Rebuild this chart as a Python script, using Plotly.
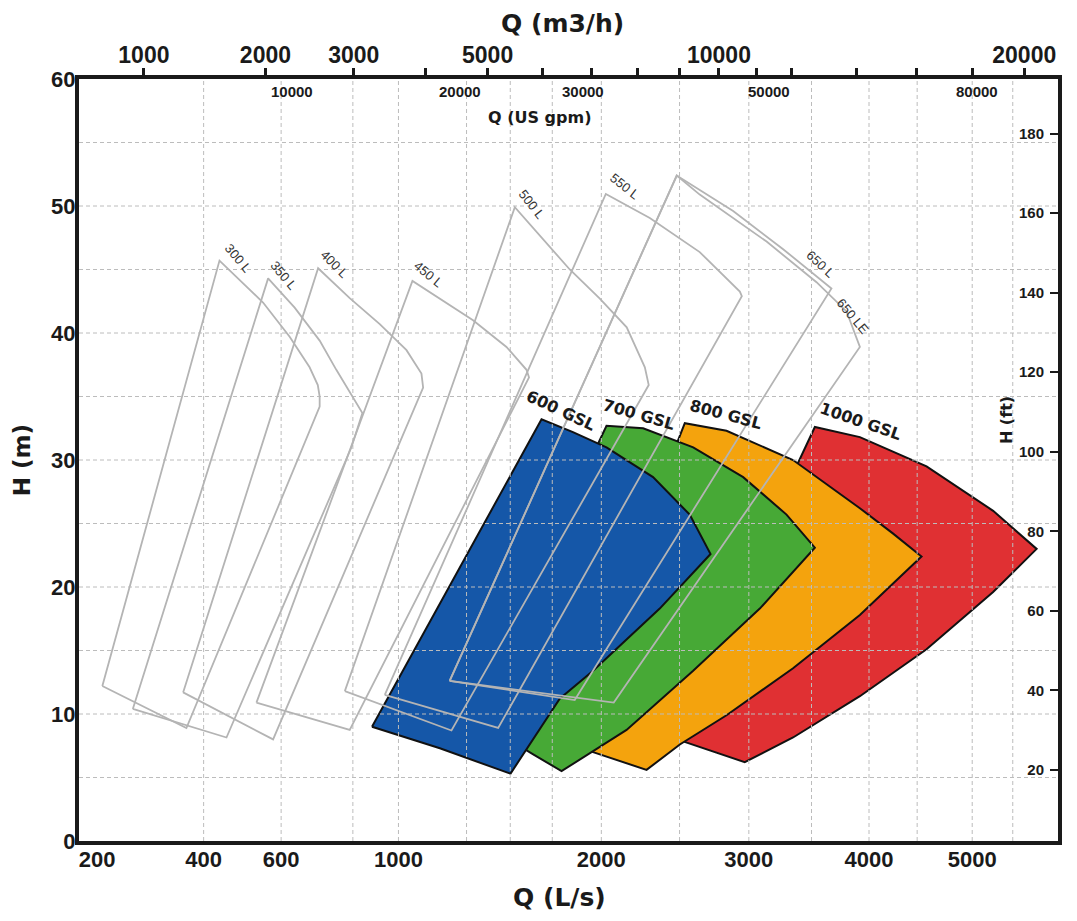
import plotly.graph_objects as go

# ---------------- axis / tick data ----------------
P = 0.4  # the chart's flow axis is compressed like Q**0.4
Q_RANGE = [174, 5935]          # L/s at the left and right frame
H_RANGE = [0, 60]              # m
FT_RANGE = [2.15, 193.7]       # ft, as printed on the right scale

ls_ticks = [200, 400, 600, 1000, 2000, 3000, 4000, 5000]
ls_grid = [400, 600, 830, 1000, 1290, 1500, 1720, 2000, 2500, 3000, 3500, 4000, 4450, 5000, 5430]
h_ticks = [0, 10, 20, 30, 40, 50, 60]
h_grid = [5, 10, 15, 20, 25, 30, 35, 40, 45, 50, 55]
ft_ticks = [20, 40, 60, 80, 100, 120, 140, 160, 180]
m3h_ticks = [1000, 2000, 3000, 4000, 5000, 6000, 7000, 8000, 9000, 10000, 11000, 12000, 14000, 16000, 18000, 20000]
m3h_labels = [1000, 2000, 3000, 5000, 10000, 20000]
gpm_labels = [10000, 20000, 30000, 50000, 80000]

# ---------------- pump ranges (Q in L/s, H in m) ----------------
l300_q = [208, 437, 549, 625, 686, 712, 718, 718, 362, 208]
l300_h = [12.2, 45.7, 42.4, 39.7, 37.3, 35.9, 35.0, 34.2, 8.9, 12.2]
l350_q = [258, 563, 640, 718, 773, 837, 864, 825, 454, 258]
l350_h = [10.4, 44.3, 42.0, 39.4, 37.1, 34.7, 33.7, 31.0, 8.15, 10.4]
l400_q = [355, 713, 819, 928, 1032, 1093, 1100, 577, 355]
l400_h = [11.7, 45.1, 42.75, 40.7, 38.65, 36.8, 35.7, 8.0, 11.7]
l450_q = [531, 1056, 1320, 1481, 1583, 1596, 819, 531]
l450_h = [10.9, 44.1, 41.0, 38.9, 37.1, 36.5, 8.75, 10.9]
l500_q = [802, 1523, 1817, 1991, 2155, 2270, 2295, 1222, 802]
l500_h = [11.8, 49.9, 45.0, 42.7, 40.45, 37.3, 35.9, 8.7, 11.8]
l550_q = [947, 2027, 2302, 2640, 2932, 2947, 1440, 947]
l550_h = [11.5, 50.95, 49.06, 46.37, 43.26, 42.9, 8.9, 11.5]
l650_q = [1214, 2481, 2882, 3268, 3669, 1845, 1214]
l650_h = [12.6, 52.4, 49.6, 46.6, 43.5, 11.1, 12.6]
l650le_q = [1214, 2481, 2640, 3137, 3542, 3800, 3918, 2075, 1214]
l650le_h = [12.6, 52.4, 50.9, 47.2, 44.0, 41.7, 38.9, 10.9, 12.6]

g600_q = [899, 1662, 1835, 2031, 2323, 2570, 2717, 2367, 1951, 1761, 1501, 1171, 899]
g600_h = [9.0, 33.2, 32.2, 31.0, 28.65, 25.7, 22.6, 18.3, 13.4, 11.2, 5.3, 7.3, 9.0]
g700_q = [1305, 2031, 2259, 2594, 2957, 3295, 3528, 3084, 2594, 2154, 1771, 1609, 1305]
g700_h = [9.9, 32.7, 32.5, 31.0, 28.65, 25.7, 23.1, 18.3, 13.4, 8.75, 5.5, 6.9, 9.9]
g800_q = [1761, 2536, 2833, 3348, 3918, 4222, 4492, 3918, 3348, 2833, 2502, 2281, 1951, 1761]
g800_h = [7.8, 32.9, 32.3, 30.0, 26.2, 24.2, 22.4, 17.8, 13.6, 9.9, 7.6, 5.6, 7.0, 7.8]
g1000_q = [2434, 3528, 3918, 4541, 5219, 5693, 5219, 4541, 3918, 3348, 2969, 2594, 2434]
g1000_h = [8.2, 32.6, 31.8, 29.5, 26.0, 23.0, 19.6, 15.1, 11.4, 8.15, 6.2, 7.6, 8.2]

outline_names = ["300 L", "350 L", "400 L", "450 L", "500 L", "550 L", "650 L", "650 LE"]
outline_label_q = [484, 607, 768, 1123, 1610, 2143, 3578, 3856]
outline_label_h = [45.9, 44.5, 45.4, 44.6, 50.1, 51.5, 45.4, 41.3]
outline_label_angle = [50, 50, 45, 40, 52, 38, 43, 50]

gsl_names = ["600 GSL", "700 GSL", "800 GSL", "1000 GSL"]
gsl_colors = ["#1557a8", "#47a936", "#f4a30d", "#e03033"]
gsl_label_q = [1767, 2231, 2828, 3927]
gsl_label_h = [33.9, 33.6, 33.6, 33.0]
gsl_label_angle = [25, 16, 15, 19]


def X(qs):
    return [None if q is None else q ** P for q in qs]


fig = go.Figure()

# filled GSL ranges (back to front)
for q, h, col in [(g1000_q, g1000_h, gsl_colors[3]), (g800_q, g800_h, gsl_colors[2]),
                  (g700_q, g700_h, gsl_colors[1]), (g600_q, g600_h, gsl_colors[0])]:
    fig.add_trace(go.Scatter(x=X(q), y=h, mode="lines", fill="toself", fillcolor=col,
                             line=dict(color="#111111", width=2), hoverinfo="skip",
                             showlegend=False))

# dashed grid drawn above the fills, as in the original
gx, gy = [], []
for q in ls_grid:
    gx += [q ** P, q ** P, None]
    gy += [H_RANGE[0], H_RANGE[1], None]
for h in h_grid:
    gx += [Q_RANGE[0] ** P, Q_RANGE[1] ** P, None]
    gy += [h, h, None]
fig.add_trace(go.Scatter(x=gx, y=gy, mode="lines", line=dict(color="#bcbcbc", width=1, dash="4px,3px"),
                         hoverinfo="skip", showlegend=False))

# grey L-series outlines
for q, h in [(l300_q, l300_h), (l350_q, l350_h), (l400_q, l400_h), (l450_q, l450_h),
             (l500_q, l500_h), (l550_q, l550_h), (l650_q, l650_h), (l650le_q, l650le_h)]:
    fig.add_trace(go.Scatter(x=X(q), y=h, mode="lines", line=dict(color="#b4b4b4", width=1.8),
                             hoverinfo="skip", showlegend=False))

# empty traces so the secondary axes exist
fig.add_trace(go.Scatter(x=[], y=[], xaxis="x2", yaxis="y", showlegend=False))
fig.add_trace(go.Scatter(x=[], y=[], xaxis="x", yaxis="y2", showlegend=False))

ann = []
for name, q, h, a in zip(outline_names, outline_label_q, outline_label_h, outline_label_angle):
    ann.append(dict(x=q ** P, y=h, xref="x", yref="y", text=name, showarrow=False, textangle=a,
                    font=dict(family="Liberation Sans", size=13, color="#333333")))
for name, q, h, a in zip(gsl_names, gsl_label_q, gsl_label_h, gsl_label_angle):
    ann.append(dict(x=q ** P, y=h, xref="x", yref="y", text=name, showarrow=False, textangle=a,
                    font=dict(family="DejaVu Sans", size=16, color="#1a1a1a", weight="bold")))
# US gpm scale, printed just inside the top frame
for v in gpm_labels:
    ann.append(dict(x=(v * 0.0630902) ** P, y=0.983, xref="x", yref="paper", text=str(v),
                    showarrow=False, xanchor="center", yanchor="middle",
                    font=dict(family="Liberation Sans", size=15, color="#1a1a1a", weight="bold")))

title_font = dict(family="DejaVu Sans", size=25, color="#1a1a1a", weight="bold")
mid = dict(showarrow=False, xanchor="center", yanchor="middle", xref="paper", yref="paper")
ann += [
    dict(x=0.4934, y=1.0722, text="Q (m3/h)", font=title_font, **mid),
    dict(x=0.4903, y=-0.0735, text="Q (L/s)", font=title_font, **mid),
    dict(x=-0.058, y=0.5, text="H (m)", textangle=-90,
         font=dict(family="DejaVu Sans", size=23, color="#1a1a1a", weight="bold"), **mid),
    dict(x=0.948, y=0.5525, text="H (ft)", textangle=-90,
         font=dict(family="DejaVu Sans", size=16, color="#1a1a1a", weight="bold"), **mid),
    dict(x=0.47, y=0.950, text="Q (US gpm)",
         font=dict(family="DejaVu Sans", size=16, color="#1a1a1a", weight="bold"), **mid),
]

tick_font = dict(family="Liberation Sans", size=22, color="#1a1a1a", weight="bold")
xr = [Q_RANGE[0] ** P, Q_RANGE[1] ** P]

# the page body has an 8px margin, so the figure is sized to fit inside it
fig.update_layout(
    width=1061, height=905,
    margin=dict(l=71, r=11, t=71, b=72, autoexpand=False),
    paper_bgcolor="white", plot_bgcolor="white",
    showlegend=False,
    annotations=ann,
    xaxis=dict(range=xr, tickvals=X(ls_ticks), ticktext=[str(v) for v in ls_ticks], automargin=False,
               showgrid=False, zeroline=False, showline=True, linecolor="#1a1a1a", linewidth=4,
               mirror=True, ticks="", tickfont=tick_font, ticklabelstandoff=-4),
    xaxis2=dict(range=xr, overlaying="x", side="top", anchor="y", automargin=False,
                tickvals=X([v / 3.6 for v in m3h_ticks]),
                ticktext=[str(v) if v in m3h_labels else "" for v in m3h_ticks],
                ticks="outside", ticklen=10, tickwidth=3, tickcolor="#1a1a1a",
                showgrid=False, zeroline=False, showline=False, ticklabelstandoff=-4,
                tickfont=dict(family="Liberation Sans", size=23, color="#1a1a1a", weight="bold")),
    yaxis=dict(range=H_RANGE, tickvals=h_ticks,
               ticktext=[str(v) for v in h_ticks], automargin=False,
               showgrid=False, zeroline=False, showline=True, linecolor="#1a1a1a", linewidth=4,
               mirror=True, ticks="", tickfont=tick_font, ticklabelstandoff=-5),
    yaxis2=dict(range=FT_RANGE, overlaying="y", side="right", anchor="x", automargin=False,
                tickvals=ft_ticks, ticktext=[str(v) for v in ft_ticks],
                ticks="inside", ticklen=8, tickwidth=2, tickcolor="#1a1a1a",
                ticklabelposition="inside", ticklabelstandoff=6,
                showgrid=False, zeroline=False, showline=False,
                tickfont=dict(family="Liberation Sans", size=15, color="#1a1a1a", weight="bold")),
)

fig.write_html("out.html")
